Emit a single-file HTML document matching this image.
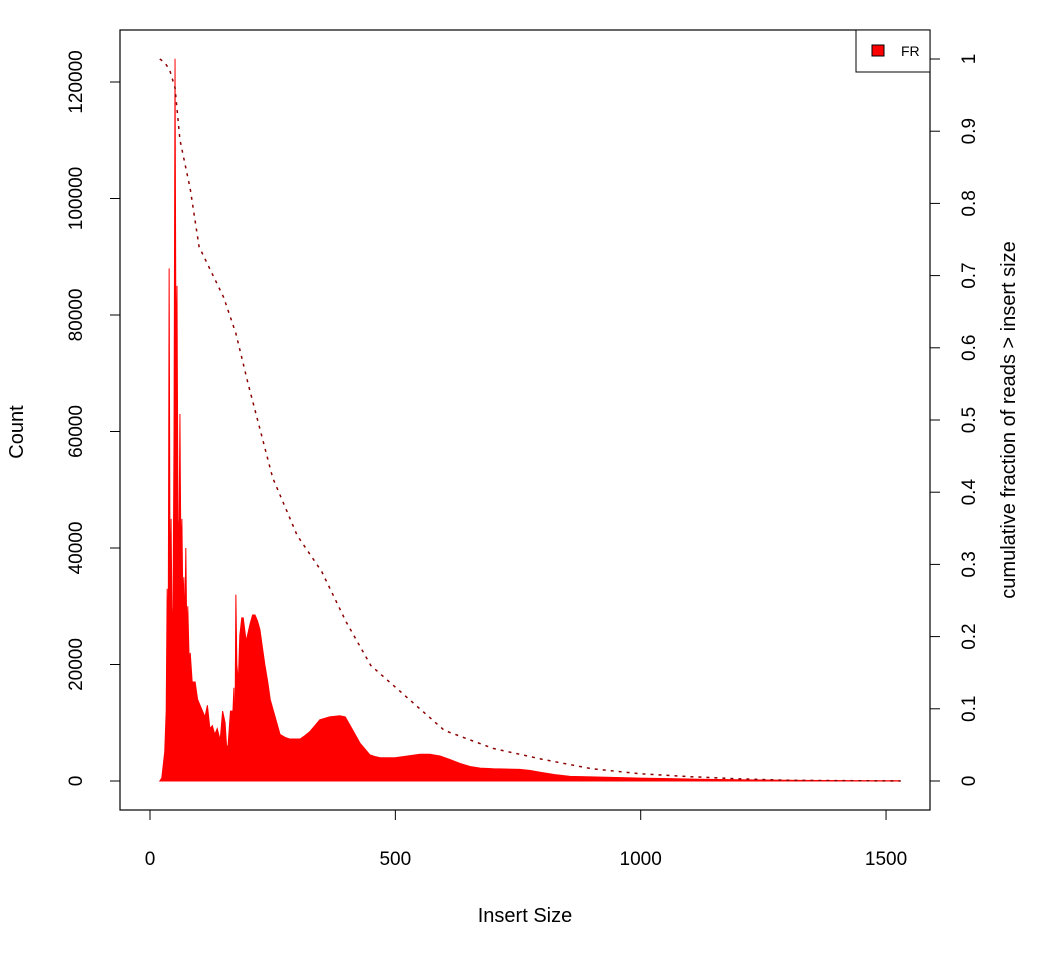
<!DOCTYPE html>
<html><head><meta charset="utf-8"><style>
body{margin:0;background:#fff}
svg{display:block;font-family:"Liberation Sans",Arial,sans-serif}
</style></head><body>
<svg id="chart" width="1050" height="960" viewBox="0 0 1050 960">
<rect width="1050" height="960" fill="#fff"/>
<g id="hist"></g>
<g id="cum"></g>
<rect x="120" y="30" width="810" height="780" fill="none" stroke="#000" stroke-width="1.2"/>
<g id="xaxis"></g>
<g id="yaxis"></g>
<g id="y2axis"></g>
<text x="525" y="922" font-size="20" text-anchor="middle">Insert Size</text>
<text transform="translate(23,432) rotate(-90)" font-size="20" text-anchor="middle">Count</text>
<text transform="translate(1015,420) rotate(-90)" font-size="20" text-anchor="middle">cumulative fraction of reads &gt; insert size</text>
<g>
<rect x="856" y="30" width="74" height="42" fill="#fff" stroke="#000" stroke-width="1"/>
<rect x="872" y="45" width="12" height="11" fill="#ff0000" stroke="#000" stroke-width="1"/>
<text x="901" y="56" font-size="14">FR</text>
</g>
</svg>
<script>
const insertSizes=[20,24,26,30,33,35,37,39,41,43,45,47,49,51,53,55,57,59,61,63,65,67,69,71,73,75,77,80,82,86,92,97,102,107,112,117,122,127,132,137,143,148,153,156,159,164,169,171,173,175,177,180,183,187,190,196,204,209,214,219,224,229,234,240,245,255,265,275,285,295,306,316,326,336,346,366,387,398,408,418,428,438,448,458,469,484,499,525,550,570,591,611,632,652,673,700,754,775,795,825,856,900,999,1060,1121,1220,1325,1420,1528];
const counts=[0,500,2000,5000,12000,33000,20000,88000,30000,45000,25000,30000,60000,124000,70000,85000,45000,40000,63000,38000,45000,30000,35000,26000,40000,25000,30000,20000,22000,17000,17000,14000,13000,12000,11000,13000,9000,9500,8000,9000,7000,12000,10000,6000,6000,12000,12000,16000,6000,32000,20000,17000,25000,28000,28000,24000,27000,28500,28500,27500,26000,23000,20000,17000,14000,11000,8000,7500,7200,7200,7200,7800,8500,9500,10500,11000,11200,11000,9500,8000,6500,5500,4500,4200,4000,4000,4000,4300,4600,4600,4300,3700,3000,2500,2200,2100,2000,1800,1500,1100,800,700,500,400,300,200,100,70,50];
const cumSizes=[20,30,40,51,61,82,100,150,175,200,250,300,350,400,450,500,550,600,700,800,900,1000,1100,1200,1300,1530];
const cumFrac=[1.0,0.995,0.985,0.96,0.888,0.82,0.74,0.67,0.62,0.55,0.42,0.34,0.29,0.22,0.16,0.13,0.10,0.07,0.045,0.03,0.017,0.01,0.006,0.003,0.001,0];
const xTicks=[0,500,1000,1500];
const yTicks=[0,20000,40000,60000,80000,100000,120000];
const y2Ticks=[0,0.1,0.2,0.3,0.4,0.5,0.6,0.7,0.8,0.9,1];
const y2Labels=["0","0.1","0.2","0.3","0.4","0.5","0.6","0.7","0.8","0.9","1"];
const NS="http://www.w3.org/2000/svg";
const X=v=>150+v*0.4907;
const Y=c=>781-c*699/120000;
const Y2=f=>781-f*722;
function mk(tag,attrs,parent){const e=document.createElementNS(NS,tag);for(const k in attrs)e.setAttribute(k,attrs[k]);parent.appendChild(e);return e;}
// histogram
let d="M"+X(insertSizes[0])+","+Y(0);
for(let i=0;i<insertSizes.length;i++)d+=" L"+X(insertSizes[i]).toFixed(2)+","+Y(counts[i]).toFixed(2);
d+=" L"+X(insertSizes[insertSizes.length-1])+","+Y(0)+" Z";
const hp=mk("path",{d:d,fill:"#ff0000",stroke:"#ff0000","stroke-width":"1"},document.getElementById("hist"));


// cumulative
let cd="";
for(let i=0;i<cumSizes.length;i++)cd+=(i?" L":"M")+X(cumSizes[i]).toFixed(2)+","+Y2(cumFrac[i]).toFixed(2);
const cp=mk("path",{d:cd,fill:"none",stroke:"#8b0000","stroke-width":"1.5","stroke-dasharray":"3,5"},document.getElementById("cum"));


// x axis
const xa=document.getElementById("xaxis");
mk("line",{x1:X(0),x2:X(1500),y1:810,y2:810,stroke:"#000"},xa);
xTicks.forEach(t=>{
 mk("line",{x1:X(t),x2:X(t),y1:810,y2:820,stroke:"#000"},xa);
 const tx=mk("text",{x:X(t),y:865,"font-size":"19","text-anchor":"middle"},xa);
 tx.textContent=t;
 
 
});
// y axis
const ya=document.getElementById("yaxis");
yTicks.forEach(t=>{
 mk("line",{x1:110,x2:120,y1:Y(t),y2:Y(t),stroke:"#000"},ya);
 const tx=mk("text",{transform:"translate(82,"+Y(t)+") rotate(-90)","font-size":"19","text-anchor":"middle"},ya);
 tx.textContent=t;
 
 
});
// y2 axis
const y2=document.getElementById("y2axis");
y2Ticks.forEach((t,i)=>{
 mk("line",{x1:930,x2:940,y1:Y2(t),y2:Y2(t),stroke:"#000"},y2);
 const tx=mk("text",{transform:"translate(975,"+Y2(t)+") rotate(-90)","font-size":"19","text-anchor":"middle"},y2);
 tx.textContent=y2Labels[i];
 
 
});
</script>
</body></html>
